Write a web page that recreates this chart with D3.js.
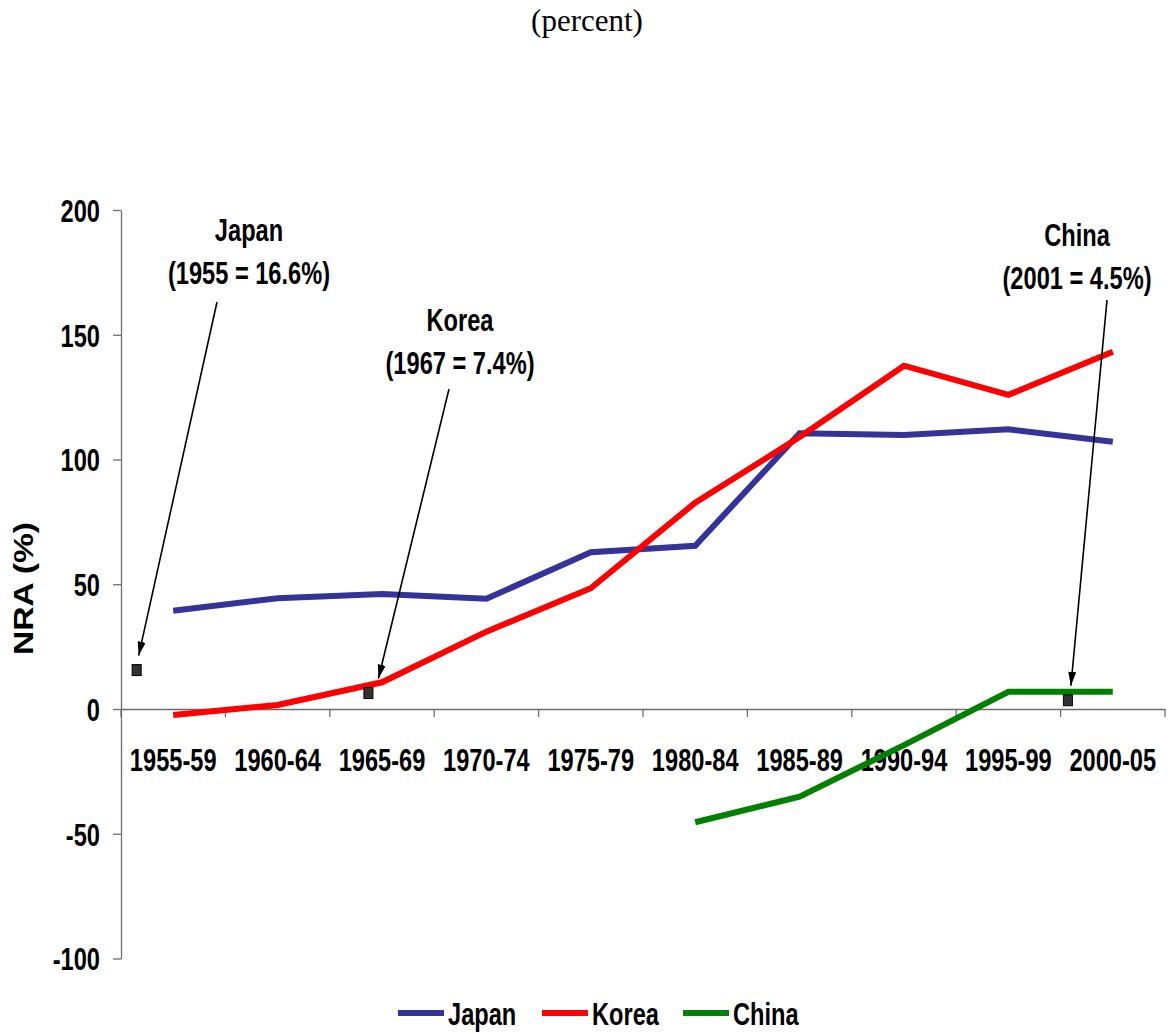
<!DOCTYPE html>
<html><head><meta charset="utf-8">
<script src="https://cdn.jsdelivr.net/npm/d3@7"></script>
<style>body{margin:0;background:#fff} svg{display:block}</style>
</head><body><svg id="c" width="1169" height="1033"></svg>
<script>
// ---- data ----
const categories = ["1955-59","1960-64","1965-69","1970-74","1975-79","1980-84","1985-89","1990-94","1995-99","2000-05"];
const japan = [39.4, 44.4, 46.1, 44.2, 62.8, 65.4, 110.5, 109.8, 112.1, 107.1];
const korea = [-2.4, 1.6, 10.7, 31.0, 48.4, 82.7, 109.0, 137.6, 125.9, 143.2];
const china = [null, null, null, null, null, -45.4, -35.1, -14.5, 6.9, 6.9];
const seriesNames = ["Japan", "Korea", "China"];
const yTicks = [-100, -50, 0, 50, 100, 150, 200];
const noteTitles = ["Japan", "Korea", "China"];
const noteTexts = ["(1955 = 16.6%)", "(1967 = 7.4%)", "(2001 = 4.5%)"];
const noteValues = [16.6, 7.4, 4.5];
const noteCategories = ["1955-59", "1965-69", "2000-05"];
const noteBandOffsets = [0.15, 0.37, 0.07];
const titleText = "(percent)";
const yAxisTitle = "NRA (%)";

// ---- layout / style ----
const colors = ["#333399", "#FF0000", "#008000"];
const FONT = "'Liberation Sans',Arial,sans-serif";
const FS = 31.5;   // font size for bold labels
const SX = 0.75;   // narrow condensation
const noteLayout = [
  {cx: 249, base1: 241, start: [217, 302], tipDx: 2},
  {cx: 460, base1: 331, start: [449, 389], tipDx: 10},
  {cx: 1077, base1: 246, start: [1107, 300], tipDx: 3}
];
const legendX = [398, 542, 683];

// condense text horizontally around its anchor
function narrow(sel) {
  sel.each(function() {
    const t = d3.select(this);
    const tx = +t.attr("x") || 0, ty = +t.attr("y") || 0;
    const prev = t.attr("transform") || "";
    t.attr("x", 0).attr("y", 0).attr("transform", `${prev} translate(${tx},${ty}) scale(${SX},1)`);
  });
}

const svg = d3.select("#c");
const x = d3.scaleBand().domain(categories).range([121, 1165]);
const y = d3.scaleLinear().domain([-100, 200]).range([958.5, 210]);
const axisColor = "#6e6e6e";

// title
svg.append("text").attr("x", 587).attr("y", 31).attr("text-anchor", "middle")
  .attr("font-family", "'Liberation Serif','Times New Roman',serif").attr("font-size", 31)
  .text(titleText);

// y axis
const gy = svg.append("g").attr("transform", `translate(${x.range()[0]},0)`)
  .call(d3.axisLeft(y).tickValues(yTicks).tickSizeInner(8).tickSizeOuter(0).tickPadding(13).tickFormat(d => String(d)));
gy.select(".domain").attr("stroke", axisColor).attr("stroke-width", 1.3);
gy.selectAll(".tick line").attr("stroke", axisColor).attr("stroke-width", 1.3);
gy.selectAll(".tick text").attr("font-family", FONT).attr("font-weight", "bold").attr("font-size", FS)
  .attr("fill", "#000").attr("dy", "0.36em").call(narrow);

// x axis at y=0
const y0 = y(0);
const gx = svg.append("g").attr("transform", `translate(0,${y0})`)
  .call(d3.axisBottom(x).tickSizeInner(0).tickSizeOuter(0).tickPadding(40));
gx.select(".domain").attr("stroke", axisColor).attr("stroke-width", 1.3);
gx.selectAll(".tick text").attr("font-family", FONT).attr("font-weight", "bold").attr("font-size", FS)
  .attr("fill", "#000").call(narrow);
// boundary ticks
const bounds = categories.map(c => x(c)).concat([x.range()[1]]);
svg.append("g").selectAll("line").data(bounds).join("line")
  .attr("x1", d => d).attr("x2", d => d).attr("y1", y0).attr("y2", y0 + 8)
  .attr("stroke", axisColor).attr("stroke-width", 1.3);

// y axis title
svg.append("text").attr("transform", `translate(33,588.5) rotate(-90)`)
  .attr("text-anchor", "middle").attr("font-family", FONT)
  .attr("font-weight", "bold").attr("font-size", 27)
  .attr("textLength", 133).attr("lengthAdjust", "spacingAndGlyphs")
  .text(yAxisTitle);

// lines
const seriesData = [japan, korea, china];
const line = d3.line().defined(d => d.v != null).x(d => x(d.c) + x.bandwidth() / 2).y(d => y(d.v));
seriesData.forEach((vals, i) => {
  svg.append("path")
    .datum(categories.map((c, j) => ({c, v: vals[j]})))
    .attr("d", line).attr("fill", "none").attr("stroke", colors[i])
    .attr("stroke-width", 6).attr("stroke-linejoin", "miter");
});

// arrow marker
svg.append("defs").append("marker").attr("id", "ah")
  .attr("viewBox", "0 0 14 8").attr("refX", 14).attr("refY", 4)
  .attr("markerWidth", 14).attr("markerHeight", 8).attr("markerUnits", "userSpaceOnUse")
  .attr("orient", "auto")
  .append("path").attr("d", "M0,0 L14,4 L0,8 Z").attr("fill", "#000");

// annotations
noteTitles.forEach((t, i) => {
  const L = noteLayout[i];
  const mx = x(noteCategories[i]) + noteBandOffsets[i] * x.bandwidth();
  const my = y(noteValues[i]);
  svg.append("rect").attr("x", mx - 4.5).attr("y", my - 3).attr("width", 9).attr("height", 11)
    .attr("fill", "#333").attr("stroke", "#000").attr("stroke-width", 1);
  svg.append("line").attr("x1", L.start[0]).attr("y1", L.start[1])
    .attr("x2", mx + L.tipDx).attr("y2", my - 12)
    .attr("stroke", "#000").attr("stroke-width", 1.6).attr("marker-end", "url(#ah)");
  const g = svg.append("g").attr("font-family", FONT).attr("font-weight", "bold")
    .attr("font-size", FS).attr("text-anchor", "middle");
  g.append("text").attr("x", L.cx).attr("y", L.base1).text(t).call(narrow);
  g.append("text").attr("x", L.cx).attr("y", L.base1 + 43).text(noteTexts[i]).call(narrow);
});

// legend
seriesNames.forEach((n, i) => {
  const lx = legendX[i];
  svg.append("line").attr("x1", lx).attr("x2", lx + 46).attr("y1", 1013).attr("y2", 1013)
    .attr("stroke", colors[i]).attr("stroke-width", 6);
  svg.append("text").attr("x", lx + 50).attr("y", 1025).attr("font-family", FONT)
    .attr("font-weight", "bold").attr("font-size", FS).text(n).call(narrow);
});
</script></body></html>
